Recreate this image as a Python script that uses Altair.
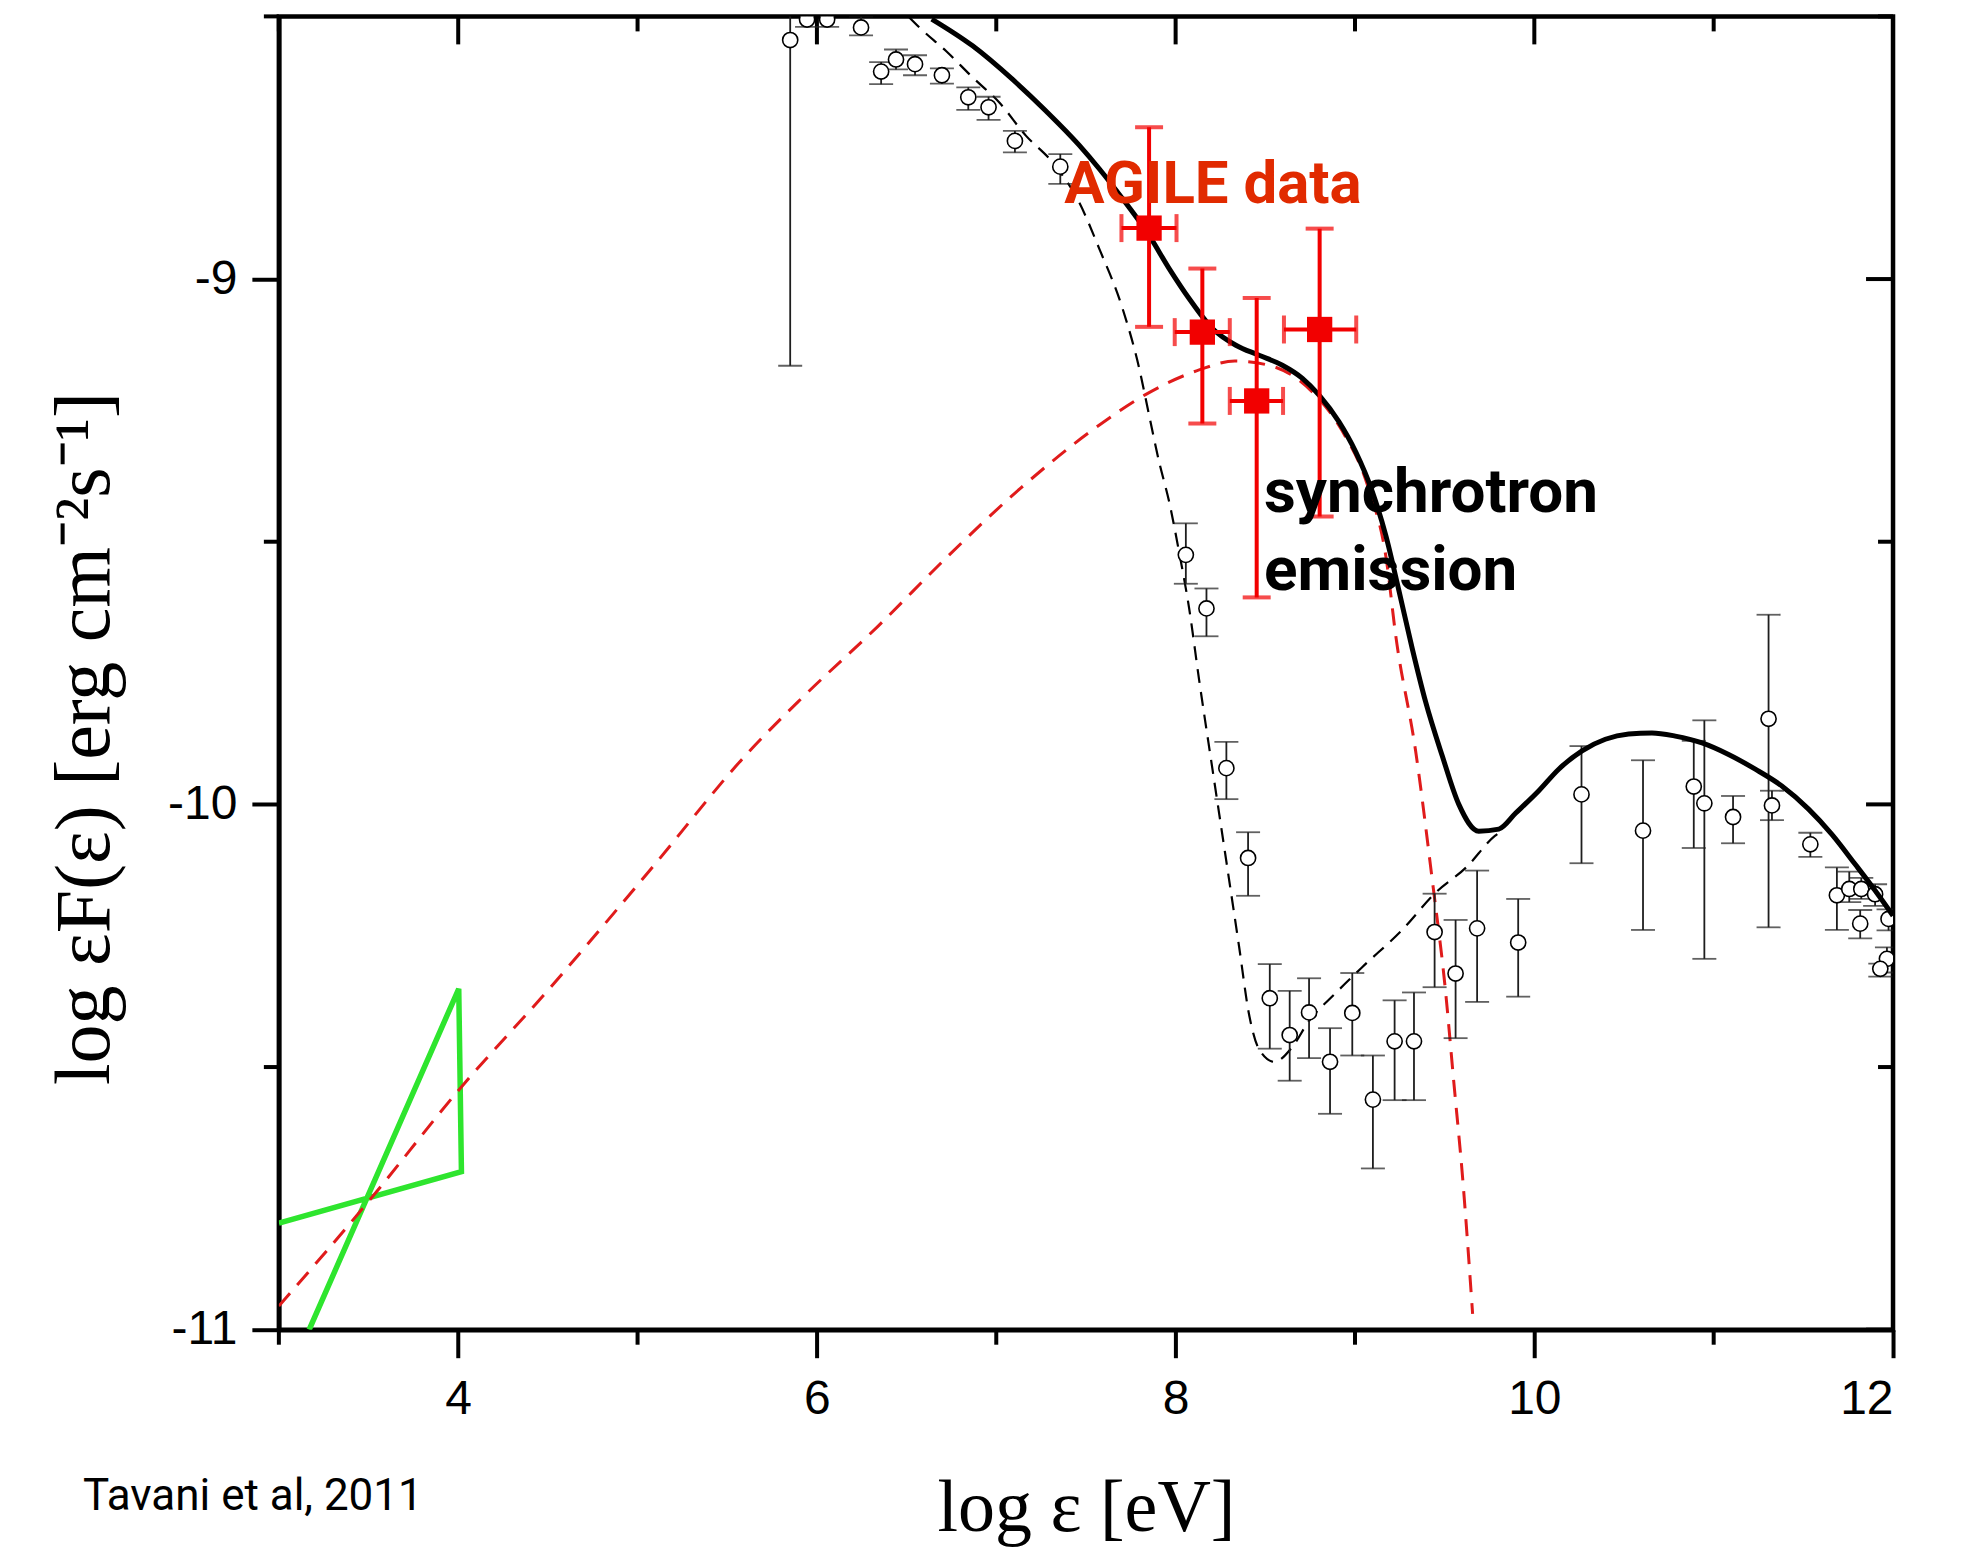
import altair as alt
import pandas as pd

W, H = 1615, 1314

# ---------------- data ----------------
# total model (solid black)
model_x = [6.64, 6.868, 7.091, 7.277, 7.462, 7.574, 7.704, 7.852, 7.964, 8.075, 8.205, 8.336,
           8.465, 8.595, 8.707, 8.800, 8.911, 9.004, 9.097, 9.171, 9.245, 9.319, 9.394, 9.486,
           9.579, 9.690, 9.802, 9.895, 10.025, 10.136, 10.266, 10.396, 10.526, 10.656, 10.786,
           10.935, 11.083, 11.232, 11.380, 11.529, 11.659, 11.789, 11.900, 12.000]
model_y = [-8.505, -8.556, -8.620, -8.680, -8.745, -8.790, -8.847, -8.917, -8.980, -9.037, -9.094, -9.126,
           -9.145, -9.164, -9.189, -9.221, -9.272, -9.329, -9.405, -9.487, -9.593, -9.703, -9.805, -9.907,
           -10.000, -10.051, -10.047, -10.017, -9.974, -9.933, -9.898, -9.876, -9.866, -9.864, -9.870,
           -9.883, -9.905, -9.933, -9.965, -10.009, -10.057, -10.114, -10.164, -10.212]

# first component (black dashed)
comp1_x = [6.515, 6.571, 6.720, 6.868, 7.017, 7.165, 7.314, 7.462, 7.574, 7.704, 7.797, 7.852,
           7.908, 7.964, 8.019, 8.075, 8.131, 8.205, 8.280, 8.354, 8.409, 8.465, 8.55, 8.65,
           8.74, 8.89, 9.04, 9.26, 9.45, 9.62, 9.78, 9.82]
comp1_y = [-8.502, -8.521, -8.566, -8.616, -8.664, -8.727, -8.778, -8.854, -8.942, -9.056, -9.170, -9.259,
           -9.348, -9.424, -9.519, -9.626, -9.763, -9.932, -10.102, -10.271, -10.399, -10.466, -10.49, -10.462,
           -10.414, -10.36, -10.31, -10.24, -10.168, -10.12, -10.06, -10.05]

# synchrotron component (red dashed)
sync_x = [3.00, 3.507, 4.00, 4.51, 5.07, 5.62, 5.918, 6.34, 6.738, 7.136, 7.534, 7.832, 8.131,
          8.33, 8.529, 8.777, 8.927, 9.076, 9.175, 9.227, 9.338, 9.431, 9.505, 9.55, 9.60, 9.656]
sync_y = [-10.955, -10.753, -10.545, -10.35, -10.125, -9.90, -9.797, -9.661, -9.525, -9.398, -9.288,
          -9.220, -9.173, -9.156, -9.165, -9.220, -9.288, -9.399, -9.534, -9.678, -9.898, -10.144,
          -10.356, -10.525, -10.71, -10.97]

# optical bow-tie (green)
bow_x = [3.0, 4.018, 4.003, 3.169]
bow_y = [-10.797, -10.699, -10.351, -11.0]

# archival SED points (open circles)
sed_x = [5.851, 5.945, 6.057, 6.246, 6.358, 6.441, 6.547, 6.697, 6.844, 6.957, 7.104, 7.357,
         8.057, 8.172, 8.283, 8.404, 8.525, 8.636, 8.744, 8.861, 8.985, 9.100, 9.221, 9.329,
         9.444, 9.561, 9.681, 9.910,
         10.263, 10.606, 10.889, 10.948, 11.108, 11.306, 11.325, 11.539, 11.687, 11.756, 11.823,
         11.817, 11.900, 11.975, 11.966, 11.929]
sed_y = [-8.545, -8.506, -8.506, -8.521, -8.605, -8.582, -8.591, -8.612, -8.654, -8.673, -8.737, -8.786,
         -9.525, -9.627, -9.931, -10.102, -10.369, -10.439, -10.396, -10.490, -10.397, -10.562, -10.451, -10.451,
         -10.243, -10.322, -10.236, -10.263,
         -9.981, -10.050, -9.966, -9.998, -10.024, -9.837, -10.002, -10.076, -10.173, -10.161, -10.161,
         -10.227, -10.171, -10.218, -10.294, -10.313]
sed_lo = [-9.165, -8.52, -8.52, -8.536, -8.629, -8.601, -8.612, -8.628, -8.678, -8.697, -8.759, -8.819,
          -9.580, -9.680, -9.990, -10.174, -10.465, -10.526, -10.483, -10.589, -10.478, -10.693, -10.563, -10.563,
          -10.348, -10.445, -10.376, -10.366,
          -10.112, -10.239, -10.083, -10.294, -10.074, -10.234, -10.030, -10.100, -10.239, -10.186, -10.18,
          -10.255, -10.193, -10.24, -10.32, -10.328]
sed_hi = [-8.45, -8.49, -8.49, -8.50, -8.587, -8.563, -8.574, -8.599, -8.635, -8.653, -8.718, -8.762,
          -9.465, -9.589, -9.881, -10.053, -10.304, -10.355, -10.331, -10.426, -10.321, -10.478, -10.373, -10.358,
          -10.170, -10.220, -10.126, -10.180,
          -9.889, -9.916, -9.879, -9.840, -9.984, -9.639, -9.974, -10.054, -10.120, -10.128, -10.14,
          -10.201, -10.152, -10.20, -10.272, -10.303]

# AGILE points
agile_x = [7.852, 8.149, 8.452, 8.803]
agile_y = [-8.903, -9.101, -9.232, -9.096]
agile_ylo = [-9.091, -9.275, -9.606, -9.452]
agile_yhi = [-8.711, -8.980, -9.036, -8.904]
agile_xlo = [7.698, 7.995, 8.302, 8.604]
agile_xhi = [8.005, 8.302, 8.599, 9.007]

# axis ticks
x_major = [4, 6, 8, 10, 12]
x_minor = [3, 5, 7, 9, 11]
y_major = [-9, -10, -11]
y_minor = [-8.5, -9.5, -10.5]

# annotations (anchored in data coordinates)
ann_text = ["AGILE data", "synchrotron", "emission"]
ann_x = [7.379, 8.493, 8.493]
ann_y = [-8.856, -9.444, -9.591]
ann_color = ["#e12a00", "#000000", "#000000"]
ann_size = [60, 62, 62]

# ---------------- chart ----------------
xs = alt.Scale(domain=[3, 12], nice=False, zero=False)
ys = alt.Scale(domain=[-11, -8.5], nice=False, zero=False)

x_axis = alt.Axis(values=x_major, tickSize=28, tickWidth=4, tickColor="black",
                  domainWidth=4.5, domainColor="black", grid=False,
                  labelFont="Liberation Sans", labelFontSize=48, labelColor="black",
                  labelPadding=18, title="log ε [eV]", titleFont="Liberation Serif",
                  titleFontSize=74, titleFontWeight="normal", titleColor="black",
                  titleBaseline="alphabetic", titleY=201, titleX=W / 2, titleAlign="center")
y_axis = alt.Axis(values=y_major, tickSize=27, tickWidth=4, tickColor="black",
                  domainWidth=4.5, domainColor="black", grid=False,
                  labelFont="Liberation Sans", labelFontSize=48, labelColor="black",
                  labelPadding=15, labelExpr="'-' + format(abs(datum.value), 'd')",
                  title="log εF(ε) [erg cm⁻²s⁻¹]", titleFont="Liberation Serif",
                  titleFontSize=78, titleFontWeight="normal", titleColor="black",
                  titleAngle=270, titleBaseline="alphabetic", titleX=-170, titleY=722,
                  titleAlign="center")


def X(f):
    return alt.X(f, type="quantitative", scale=xs, axis=x_axis)


def Y(f):
    return alt.Y(f, type="quantitative", scale=ys, axis=y_axis)


model_df = pd.DataFrame({"x": model_x, "y": model_y, "i": range(len(model_x))})
comp1_df = pd.DataFrame({"x": comp1_x, "y": comp1_y, "i": range(len(comp1_x))})
sync_df = pd.DataFrame({"x": sync_x, "y": sync_y, "i": range(len(sync_x))})
bow_df = pd.DataFrame({"x": bow_x, "y": bow_y, "i": range(len(bow_x))})
sed_df = pd.DataFrame({"x": sed_x, "y": sed_y, "lo": sed_lo, "hi": sed_hi})
ag_df = pd.DataFrame({"x": agile_x, "y": agile_y, "ylo": agile_ylo, "yhi": agile_yhi,
                      "xlo": agile_xlo, "xhi": agile_xhi})
ann_df = pd.DataFrame({"t": ann_text, "x": ann_x, "y": ann_y, "c": ann_color, "s": ann_size})

layers = []

# ticks: bottom minor (outward), top major/minor (inward), left minor (outward), right (inward)
xmaj_df = pd.DataFrame({"x": x_major})
xmin_df = pd.DataFrame({"x": x_minor})
ymaj_df = pd.DataFrame({"y": y_major})
ymin_df = pd.DataFrame({"y": y_minor})
tick_style = dict(color="black", strokeWidth=4)
layers.append(alt.Chart(xmin_df).mark_rule(**tick_style).encode(
    x=X("x"), y=alt.value(H), y2=alt.value(H + 15)))
layers.append(alt.Chart(xmaj_df).mark_rule(**tick_style).encode(
    x=X("x"), y=alt.value(0), y2=alt.value(28)))
layers.append(alt.Chart(xmin_df).mark_rule(**tick_style).encode(
    x=X("x"), y=alt.value(0), y2=alt.value(15)))
layers.append(alt.Chart(ymin_df).mark_rule(**tick_style).encode(
    y=Y("y"), x=alt.value(0), x2=alt.value(-15)))
layers.append(alt.Chart(ymaj_df).mark_rule(**tick_style).encode(
    y=Y("y"), x=alt.value(W), x2=alt.value(W - 27)))
layers.append(alt.Chart(ymin_df).mark_rule(**tick_style).encode(
    y=Y("y"), x=alt.value(W), x2=alt.value(W - 15)))

# green bow-tie
layers.append(alt.Chart(bow_df).mark_line(color="#2ee52e", strokeWidth=5.5, clip=True,
                                          strokeJoin="miter").encode(
    x=X("x"), y=Y("y"), order="i:Q"))
# red dashed synchrotron
layers.append(alt.Chart(sync_df).mark_line(color="#e01b1b", strokeWidth=3, strokeDash=[17, 11],
                                           clip=True, interpolate="monotone").encode(
    x=X("x"), y=Y("y"), order="i:Q"))
# black dashed component
layers.append(alt.Chart(comp1_df).mark_line(color="black", strokeWidth=2.2, strokeDash=[14, 9],
                                            clip=True, interpolate="monotone").encode(
    x=X("x"), y=Y("y"), order="i:Q"))

# archival points: error bars, caps, circles
err_col = "#1e1e1e"
layers.append(alt.Chart(sed_df).mark_rule(color=err_col, strokeWidth=1.8, clip=True).encode(
    x=X("x"), y=Y("lo"), y2="hi"))
layers.append(alt.Chart(sed_df).mark_tick(color=err_col, orient="horizontal", size=24,
                                          thickness=1.8, clip=True).encode(x=X("x"), y=Y("lo")))
layers.append(alt.Chart(sed_df).mark_tick(color=err_col, orient="horizontal", size=24,
                                          thickness=1.8, clip=True).encode(x=X("x"), y=Y("hi")))
layers.append(alt.Chart(sed_df).mark_point(shape="circle", size=230, filled=False, fill="white",
                                           fillOpacity=1, stroke="black", strokeWidth=1.6,
                                           opacity=1, clip=True).encode(x=X("x"), y=Y("y")))

# total model (solid black)
layers.append(alt.Chart(model_df).mark_line(color="black", strokeWidth=5, clip=True,
                                            interpolate="monotone").encode(
    x=X("x"), y=Y("y"), order="i:Q"))

# AGILE points
red = "#f20000"
layers.append(alt.Chart(ag_df).mark_rule(color=red, strokeWidth=4).encode(
    x=X("x"), y=Y("ylo"), y2="yhi"))
layers.append(alt.Chart(ag_df).mark_rule(color=red, strokeWidth=4).encode(
    x=X("xlo"), x2="xhi", y=Y("y")))
for fy in ["ylo", "yhi"]:
    layers.append(alt.Chart(ag_df).mark_tick(color=red, orient="horizontal", size=28,
                                             thickness=4).encode(x=X("x"), y=Y(fy)))
for fx in ["xlo", "xhi"]:
    layers.append(alt.Chart(ag_df).mark_tick(color=red, orient="vertical", size=28,
                                             thickness=4).encode(x=X(fx), y=Y("y")))
layers.append(alt.Chart(ag_df).mark_square(color=red, size=640, opacity=1).encode(
    x=X("x"), y=Y("y")))

# annotations
layers.append(alt.Chart(ann_df).mark_text(font="Roboto", fontWeight="bold",
                                          align="left", baseline="alphabetic").encode(
    x=X("x"), y=Y("y"), text="t:N", color=alt.Color("c:N", scale=None),
    size=alt.Size("s:Q", scale=None)))

credit_df = pd.DataFrame({"t": ["Tavani et al, 2011"]})
layers.append(alt.Chart(credit_df).mark_text(font="Roboto", fontSize=44, align="left",
                                             baseline="alphabetic", color="black").encode(
    text="t:N", x=alt.value(-196), y=alt.value(1494)))

chart = alt.layer(*layers).properties(
    width=W, height=H,
    padding={"left": 271, "top": 8, "right": 60, "bottom": 220},
    autosize=alt.AutoSizeParams(type="none"),
    background="white",
).configure_view(stroke="black", strokeWidth=4.5)

chart.save("out.html", embed_options={"renderer": "svg", "actions": False})
